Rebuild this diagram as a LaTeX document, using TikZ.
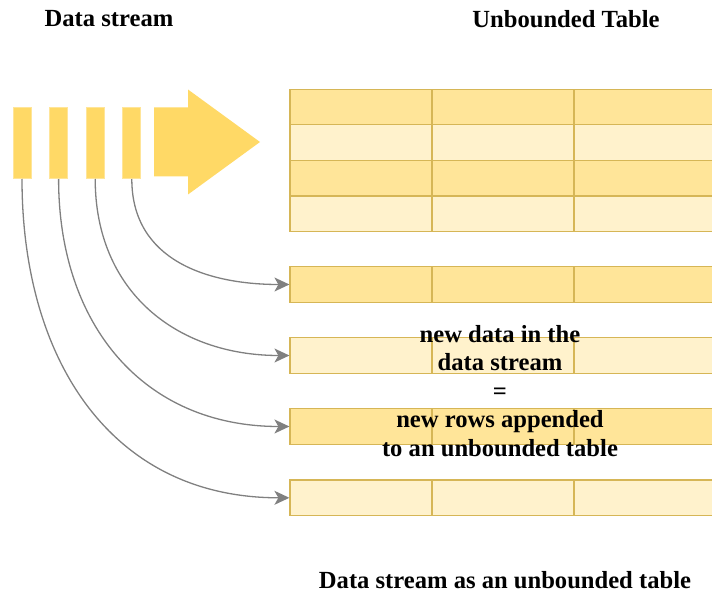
\documentclass[tikz,border=0pt]{standalone}
\usepackage{fontspec}
\setmainfont{Liberation Serif}
\usetikzlibrary{positioning, arrows.meta}
\definecolor{streamfill}{HTML}{FFD966}
\definecolor{streamline}{HTML}{FFE599}
\definecolor{rowdark}{HTML}{FFE599}
\definecolor{rowlight}{HTML}{FFF2CC}
\definecolor{rowline}{HTML}{D6B656}
\definecolor{linkgray}{HTML}{808080}
\tikzset{
	x=1bp, y=-1bp,
	bar/.style={draw=streamline, fill=streamfill, line width=1bp, minimum width=18bp, minimum height=71bp, inner sep=0pt},
	cell/.style={draw=rowline, line width=1.2bp, minimum width=142bp, minimum height=35.6bp, inner sep=0pt},
	darkcell/.style={cell, fill=rowdark},
	lightcell/.style={cell, fill=rowlight},
	link/.style={-{Stealth[length=15bp, width=14bp, inset=4bp]}, draw=linkgray, line width=1.3bp, out=-90, in=180, looseness=1.1},
	title/.style={font=\bfseries\fontsize{24.7}{28.5}\selectfont, align=center}}

\begin{document}
\begin{tikzpicture}
	\useasboundingbox (0,0) rectangle (712,594);

	% data stream
	\node[bar] (s1) at (22,143) {};
	\node[bar, right=17.6bp of s1] (s2) {};
	\node[bar, right=17.6bp of s2] (s3) {};
	\node[bar, right=17.6bp of s3] (s4) {};
	\fill[streamfill] (154,107.5) -- (188,107.5) -- (188,89.5) -- (260,142)
		-- (188,194.5) -- (188,176.5) -- (154,176.5) -- cycle;

	% unbounded table
	\foreach \r/\s in {1/darkcell, 2/lightcell, 3/darkcell, 4/lightcell}
		\foreach \c in {1,2,3}
			\node[\s] (t\r\c) at ({219+142*\c}, {71.5+35.6*\r}) {};

	% new rows
	\foreach \n/\y/\s in {a/284.5/darkcell, b/355.5/lightcell, c/426.5/darkcell, d/497.8/lightcell}
		\foreach \c in {1,2,3}
			\node[\s] (\n\c) at ({219+142*\c}, \y) {};

	\path
	(s4.south) edge[link] (a1.west)
	(s3.south) edge[link] (b1.west)
	(s2.south) edge[link] (c1.west)
	(s1.south) edge[link] (d1.west)
	;

	\node[title] (streamtitle) at (109,19) {Data stream};
	\node[title] (tabletitle) at (566,19) {Unbounded Table};
	\node[title] (note) at (500,391) {new data in the\\data stream\\=\\new rows appended\\to an unbounded table};
	\node[title] (caption) at (505,580) {Data stream as an unbounded table};
\end{tikzpicture}
\end{document}
